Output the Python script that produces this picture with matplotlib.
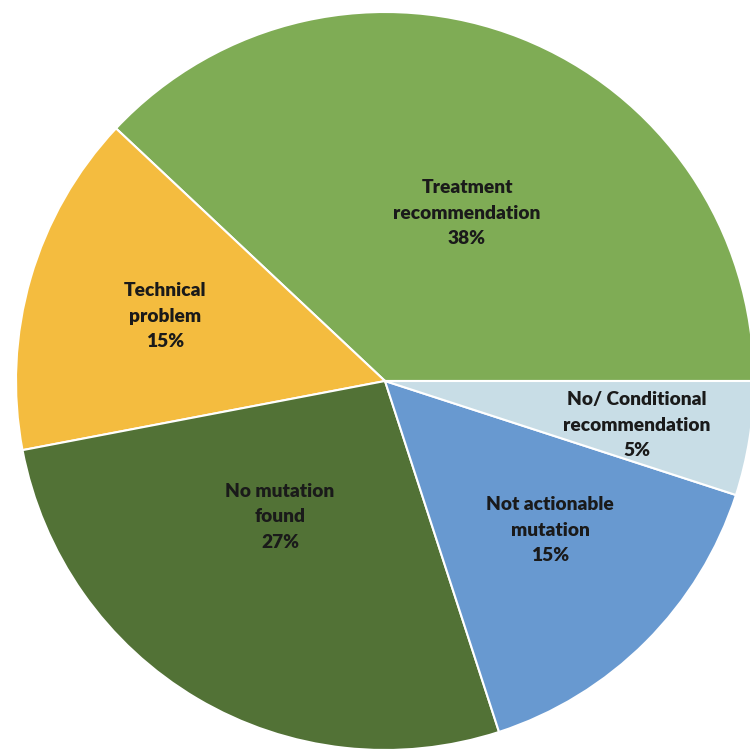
import matplotlib.pyplot as plt

labels = ["Treatment\nrecommendation", "Technical\nproblem", "No mutation\nfound",
          "Not actionable\nmutation", "No/ Conditional\nrecommendation"]
shares = [38, 15, 27, 15, 5]
colors = ["#7fac55", "#f4bc3f", "#527236", "#6899d0", "#c8dde6"]

# label centres in pixels (x, y from top)
label_px = [(467, 213), (165, 316), (280, 517), (550, 530), (637, 425)]

W, H = 750, 749
cx, cy, r = 385, 381, 369

fig = plt.figure(figsize=(W / 100, H / 100), dpi=100)
ax = fig.add_axes([0, 0, 1, 1])
ax.pie(shares, colors=colors, startangle=0, counterclock=True,
       wedgeprops=dict(edgecolor="white", linewidth=1.5))
ax.set_xlim(-cx / r, (W - cx) / r)
ax.set_ylim(-(H - cy) / r, cy / r)
ax.set_aspect("equal", adjustable="box")
ax.axis("off")

for lab, s, (px, py) in zip(labels, shares, label_px):
    ax.text(px / W, 1 - py / H, f"{lab}\n{s}%", transform=ax.transAxes,
            ha="center", va="center", fontsize=13.8, fontweight="heavy",
            family="Lato", color="#1a1a1a", linespacing=1.62)

fig.savefig("out.png", dpi=100)
